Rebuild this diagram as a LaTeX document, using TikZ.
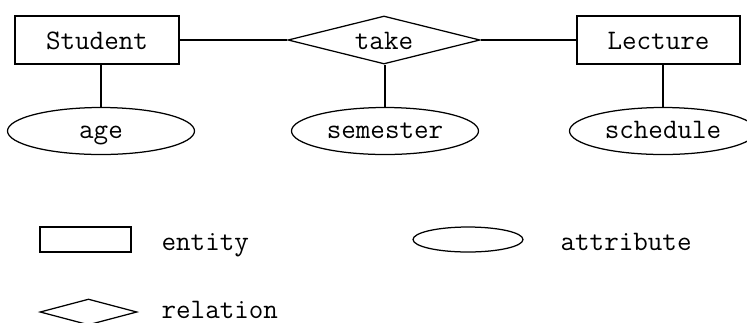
\documentclass[tikz,border=0pt]{standalone}
\usetikzlibrary{shapes.geometric}

\begin{document}
\begin{tikzpicture}[x=0.4pt,y=-0.4pt,line width=0.5pt,
    font=\ttfamily\fontsize{11.3}{13}\selectfont,
    entity/.style={draw,rectangle,inner sep=0pt,minimum height=19.2pt,text height=7.6pt,text depth=0pt},
    attr/.style={draw,ellipse,inner sep=0pt,minimum width=74.8pt,minimum height=18.8pt,text height=5.6pt,text depth=0pt},
    rel/.style={draw,diamond,aspect=4,inner sep=0pt,text height=7.6pt,text depth=0pt}]
  \useasboundingbox (0,0) rectangle (747,322);
      \coordinate (S) at (97, 40);
        \coordinate (T) at (384, 40);
          \coordinate (L) at (658.5, 40);
            \coordinate (A) at (101, 131);
              \coordinate (M) at (385, 131);
                \coordinate (H) at (663, 131);
   \node (student)[entity,minimum width=65.6pt] at (S) {Student};
     \node (take)[rel,minimum width=76.8pt,minimum height=19.2pt] at (T) {take};
       \node (lecture)[entity,minimum width=65.2pt] at (L) {Lecture};
     \node (age)[attr] at (A) {age};
       \node (semester)[attr] at (M) {semester};
     \node (schedule)[attr] at (H) {schedule};

  \draw (student)--(take)--(lecture);
  \draw (age.north)--(age.north |- student.south)
        (semester.north)--(semester.north |- take.south)
        (schedule.north)--(schedule.north |- lecture.south);

   \node (keyent)[entity,minimum width=36.4pt,minimum height=10pt] at (85.5, 239.5) {};
     \node (keyatt)[attr,minimum width=44pt,minimum height=10pt] at (468, 239.5) {};
   \node (keyrel)[rel,minimum width=38.8pt,minimum height=10.4pt,text height=0pt] at (88.5, 312) {};
   \node (entlab)[anchor=base west,inner sep=0pt] at (161, 250) {entity};
     \node (attlab)[anchor=base west,inner sep=0pt] at (560, 250) {attribute};
   \node (rellab)[anchor=base west,inner sep=0pt] at (161, 318) {relation};
\end{tikzpicture}
\end{document}
